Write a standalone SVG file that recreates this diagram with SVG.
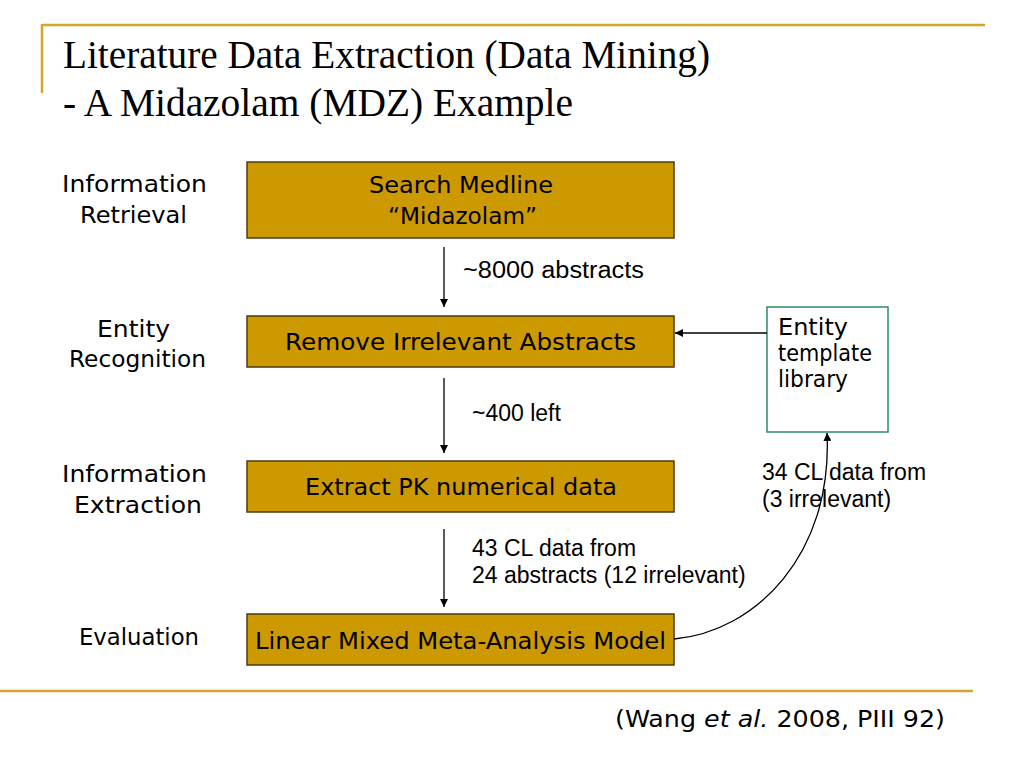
<svg xmlns="http://www.w3.org/2000/svg" width="1024" height="768" viewBox="0 0 1024 768">
<style>
.rule{stroke:#D4A52A;stroke-width:2.5;fill:none}
.title{font-family:"Liberation Serif",serif;font-size:39px;fill:#000}
.box{fill:#CC9900;stroke:#4A3C10;stroke-width:1.5}
.btxt{font-family:"DejaVu Sans","Noto Sans",sans-serif;font-size:23px;fill:#000}
.side{font-family:"DejaVu Sans","Noto Sans",sans-serif;font-size:23px;fill:#000}
.lbl{font-family:"Liberation Sans",Arial,sans-serif;font-size:23px;fill:#000}
.conn{stroke:#000;stroke-width:1.3;fill:none}
</style>
<defs>
<marker id="ah" viewBox="0 0 10 10" refX="10" refY="5" markerWidth="8" markerHeight="8" markerUnits="userSpaceOnUse" orient="auto">
<path d="M0,0 L10,5 L0,10 z" fill="#000"/>
</marker>
</defs>
<rect width="1024" height="768" fill="#fff"/>
<g id="decor">
<line class="rule" x1="42" y1="25" x2="985" y2="25"/>
<line class="rule" x1="42" y1="24" x2="42" y2="93"/>
<line class="rule" x1="0" y1="691" x2="973" y2="691"/>
</g>
<g id="title">
<text class="title" x="63" y="68" textLength="647" lengthAdjust="spacingAndGlyphs">Literature Data Extraction (Data Mining)</text>
<text class="title" x="63" y="116" textLength="510" lengthAdjust="spacingAndGlyphs">- A Midazolam (MDZ) Example</text>
</g>
<g id="side-labels">
<text class="side" x="62" y="192" textLength="145" lengthAdjust="spacingAndGlyphs">Information</text>
<text class="side" x="80" y="223" textLength="107" lengthAdjust="spacingAndGlyphs">Retrieval</text>
<text class="side" x="97" y="337" textLength="73" lengthAdjust="spacingAndGlyphs">Entity</text>
<text class="side" x="69" y="367" textLength="137" lengthAdjust="spacingAndGlyphs">Recognition</text>
<text class="side" x="62" y="482" textLength="145" lengthAdjust="spacingAndGlyphs">Information</text>
<text class="side" x="74" y="513" textLength="128" lengthAdjust="spacingAndGlyphs">Extraction</text>
<text class="side" x="79" y="645" textLength="120" lengthAdjust="spacingAndGlyphs">Evaluation</text>
</g>
<g id="n1">
<rect class="box" x="247" y="162" width="427" height="76"/>
<text class="btxt" x="369" y="193" textLength="184" lengthAdjust="spacingAndGlyphs">Search Medline</text>
<text class="btxt" x="388" y="224" textLength="149" lengthAdjust="spacingAndGlyphs">“Midazolam”</text>
</g>
<g id="n2">
<rect class="box" x="247" y="316" width="427" height="51"/>
<text class="btxt" x="285" y="350" textLength="351" lengthAdjust="spacingAndGlyphs">Remove Irrelevant Abstracts</text>
</g>
<g id="n3">
<rect class="box" x="247" y="461" width="427" height="51"/>
<text class="btxt" x="305" y="495" textLength="312" lengthAdjust="spacingAndGlyphs">Extract PK numerical data</text>
</g>
<g id="n4">
<rect class="box" x="247" y="614" width="427" height="51"/>
<text class="btxt" x="255" y="649" textLength="411" lengthAdjust="spacingAndGlyphs">Linear Mixed Meta-Analysis Model</text>
</g>
<g id="n5">
<rect x="767" y="307" width="121" height="125" fill="#fff" stroke="#2E8B66" stroke-width="1.5"/>
<text class="btxt" x="778" y="335" textLength="70" lengthAdjust="spacingAndGlyphs">Entity</text>
<text class="btxt" x="778" y="361" textLength="94" lengthAdjust="spacingAndGlyphs">template</text>
<text class="btxt" x="778" y="387" textLength="70" lengthAdjust="spacingAndGlyphs">library</text>
</g>
<g id="connectors">
<line class="conn" x1="444" y1="247" x2="444" y2="307" marker-end="url(#ah)"/>
<line class="conn" x1="444" y1="378" x2="444" y2="453" marker-end="url(#ah)"/>
<line class="conn" x1="444" y1="529" x2="444" y2="607" marker-end="url(#ah)"/>
<line class="conn" x1="767" y1="333" x2="675" y2="333" marker-end="url(#ah)"/>
<path class="conn" d="M674,639 C755,632 833,555 827,433" marker-end="url(#ah)"/>
</g>
<g id="connector-labels">
<text class="lbl" x="463" y="278" textLength="181" lengthAdjust="spacingAndGlyphs">~8000 abstracts</text>
<text class="lbl" x="472" y="421">~400 left</text>
<text class="lbl" x="472" y="556">43 CL data from</text>
<text class="lbl" x="472" y="583">24 abstracts (12 irrelevant)</text>
<text class="lbl" x="762" y="480">34 CL data from</text>
<text class="lbl" x="762" y="507">(3 irrelevant)</text>
</g>
<g id="footer">
<text class="btxt" x="615" y="727" textLength="330" lengthAdjust="spacingAndGlyphs">(<tspan>Wang </tspan><tspan font-style="italic">et al.</tspan> 2008, PIII 92)</text>
</g>
</svg>
